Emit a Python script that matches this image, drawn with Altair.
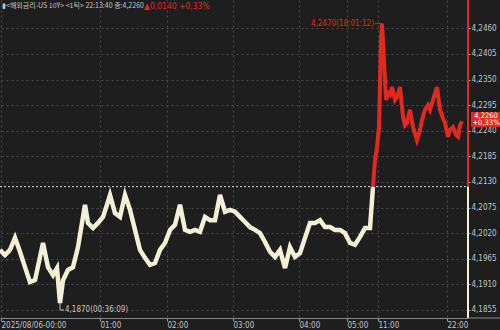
import altair as alt
import pandas as pd

# ---- data ----
white_tick = [0, 5, 10, 15, 20, 25, 30, 35, 40, 43, 48, 53, 57, 60, 63, 68, 73, 78, 82, 85,
              88, 93, 98, 103, 107, 110, 115, 120, 125, 130, 135, 140, 145, 150, 155, 160, 165,
              170, 175, 180, 185, 190, 195, 200, 205, 210, 215, 220, 225, 230, 235, 240, 245,
              250, 255, 260, 265, 270, 275, 280, 285, 290, 295, 300, 305, 310, 315, 320, 325,
              330, 335, 340, 345, 350, 355, 360, 365, 370, 373]
white_val = [4.1984, 4.1973, 4.1984, 4.2010, 4.1980, 4.1947, 4.1915, 4.1919, 4.1969, 4.1999,
             4.1947, 4.1930, 4.1945, 4.1870, 4.1919, 4.1941, 4.1947, 4.1990, 4.2042, 4.2081,
             4.2042, 4.2031, 4.2042, 4.2055, 4.2081, 4.2102, 4.2063, 4.2055, 4.2102, 4.2070,
             4.2027, 4.1984, 4.1967, 4.1952, 4.1956, 4.1984, 4.1999, 4.2027, 4.2038, 4.2081,
             4.2027, 4.2023, 4.2027, 4.2023, 4.2055, 4.2048, 4.2048, 4.2102, 4.2066, 4.2070,
             4.2066, 4.2055, 4.2044, 4.2033, 4.2027, 4.2020, 4.2001, 4.1980, 4.1969, 4.1984,
             4.1945, 4.1990, 4.1969, 4.1977, 4.2010, 4.2042, 4.2042, 4.2048, 4.2033, 4.2033,
             4.2027, 4.2027, 4.2020, 4.1999, 4.1995, 4.2012, 4.2031, 4.2031, 4.2120]

red_tick = [373, 375, 377, 379, 381, 382, 384, 386, 388, 390, 392, 395, 397, 400, 403, 405,
            407, 410, 413, 417, 420, 422, 425, 428, 430, 433, 437, 440, 443, 445, 448, 450,
            453, 456, 458, 460, 462]
red_val = [4.2120, 4.2177, 4.2205, 4.2248, 4.2435, 4.2470, 4.2392, 4.2306, 4.2321, 4.2317,
           4.2334, 4.2306, 4.2312, 4.2334, 4.2270, 4.2252, 4.2257, 4.2285, 4.2248, 4.2220,
           4.2242, 4.2263, 4.2285, 4.2295, 4.2285, 4.2306, 4.2334, 4.2285, 4.2267, 4.2257,
           4.2227, 4.2242, 4.2248, 4.2231, 4.2227, 4.2252, 4.2260]

x_tick_pos = [1, 100, 167, 233, 299, 347, 378, 447]
x_tick_labels = ["2025/08/06-00:00", "01:00", "02:00", "03:00", "04:00", "05:00", "11:00", "22:00"]
y_ticks = [4.1855, 4.1910, 4.1965, 4.2020, 4.2075, 4.2130, 4.2185, 4.2240, 4.2295,
           4.2350, 4.2405, 4.2460]
prev_close = 4.2120
last_price = 4.2260
low_point = (60, 4.1870, "4,1870(00:36:09)")
high_point = (382, 4.2470, "4,2470(18:01:12)")
header_main = "▮<해외금리-US 10Y> <1틱> 22:13:40 종:4,2260"
header_change = "▲0,0140 +0,33%"
tag_lines = ["4,2260", "+0,33%"]

# ---- styling ----
BG = "#1e1e1e"
CREAM = "#f3f0d6"
RED = "#e2291f"
GRID = "#4a4a4a"
LABEL = "#c4c4c4"
FONT = "Liberation Sans Narrow, DejaVu Sans Condensed, Liberation Sans, sans-serif"
W, H = 468, 318
Y_DOMAIN = [4.18378, 4.25208]
X_DOMAIN = [0, 468]

label_expr = ""
for p, l in zip(x_tick_pos, x_tick_labels):
    label_expr += f"datum.value == {p} ? '{l}' : "
label_expr += "''"

xs = alt.Scale(domain=X_DOMAIN, nice=False, zero=False)
ys = alt.Scale(domain=Y_DOMAIN, nice=False, zero=False)

white_df = pd.DataFrame({"tick": white_tick, "price": white_val})
red_df = pd.DataFrame({"tick": red_tick, "price": red_val})

x_axis = alt.Axis(values=x_tick_pos, labelExpr=label_expr, labelAlign="left", labelPadding=0,
                  labelColor=LABEL, labelFont=FONT, labelFontSize=8, tickSize=3,
                  tickColor="#9a9a9a", domainColor="#8a8a8a", grid=True, gridColor=GRID,
                  gridDash=[2, 3], title=None, labelOverlap=False, labelBound=False)
y_axis = alt.Axis(orient="right", values=y_ticks,
                  labelExpr="replace(format(datum.value, '.4f'), '.', ',')",
                  labelColor=LABEL, labelFont=FONT, labelFontSize=8, labelPadding=1,
                  tickSize=2, tickColor="#9a9a9a", domain=False, grid=True, gridColor=GRID,
                  gridDash=[2, 3], title=None, labelOverlap=False)

base_white = alt.Chart(white_df).mark_line(color=CREAM, strokeWidth=4.5, interpolate="linear",
                                           strokeJoin="miter", clip=True).encode(
    x=alt.X("tick:Q", scale=xs, axis=x_axis),
    y=alt.Y("price:Q", scale=ys, axis=y_axis),
)
red_line = alt.Chart(red_df).mark_line(color=RED, strokeWidth=4, interpolate="linear",
                                       strokeJoin="miter", clip=True).encode(
    x=alt.X("tick:Q", scale=xs, axis=x_axis),
    y=alt.Y("price:Q", scale=ys, axis=y_axis),
)

pc_df = pd.DataFrame({"p": [prev_close]})
prev_line = alt.Chart(pc_df).mark_rule(color="#d8d8d8", strokeDash=[2, 2], strokeWidth=1).encode(
    y=alt.Y("p:Q", scale=ys, axis=y_axis), x=alt.value(0), x2=alt.value(W))
axis_red = alt.Chart(pc_df).mark_rule(color=RED, strokeWidth=2).encode(
    y=alt.Y("p:Q", scale=ys, axis=y_axis), y2=alt.value(0), x=alt.value(W))
axis_cream = alt.Chart(pc_df).mark_rule(color=CREAM, strokeWidth=2).encode(
    y=alt.Y("p:Q", scale=ys, axis=y_axis), y2=alt.value(H), x=alt.value(W))
bottom_ext = alt.Chart(pc_df).mark_rule(color="#8a8a8a", strokeWidth=1).encode(
    x=alt.value(W), x2=alt.value(500), y=alt.value(H))

low_df = pd.DataFrame({"t": [low_point[0]], "p": [low_point[1]], "txt": [low_point[2]]})
low_txt = alt.Chart(low_df).mark_text(color=LABEL, font=FONT, fontSize=8, align="left",
                                      baseline="middle", dx=5, dy=7).encode(
    x=alt.X("t:Q", scale=xs, axis=x_axis), y=alt.Y("p:Q", scale=ys, axis=y_axis), text="txt:N")
low_v = alt.Chart(low_df).mark_rule(color=LABEL, strokeWidth=1).encode(
    x=alt.X("t:Q", scale=xs, axis=x_axis), y=alt.Y("p:Q", scale=ys, axis=y_axis),
    y2=alt.value(310))
low_h = alt.Chart(low_df).mark_rule(color=LABEL, strokeWidth=1).encode(
    x=alt.X("t:Q", scale=xs, axis=x_axis), x2=alt.value(64), y=alt.value(310))

high_df = pd.DataFrame({"t": [high_point[0]], "p": [high_point[1]], "txt": [high_point[2]]})
high_txt = alt.Chart(high_df).mark_text(color=RED, font=FONT, fontSize=8, align="right",
                                        baseline="middle", dx=-8).encode(
    x=alt.X("t:Q", scale=xs, axis=x_axis), y=alt.Y("p:Q", scale=ys, axis=y_axis), text="txt:N")
high_h = alt.Chart(high_df).mark_rule(color=RED, strokeWidth=1).encode(
    x=alt.X("t:Q", scale=xs, axis=x_axis), x2=alt.value(375),
    y=alt.Y("p:Q", scale=ys, axis=y_axis))

hdr_df = pd.DataFrame({"a": [header_main], "b": [header_change]})
hdr1 = alt.Chart(hdr_df).mark_text(color=LABEL, font="Noto Sans CJK KR", fontSize=7,
                                   align="left", baseline="middle").encode(
    x=alt.value(2), y=alt.value(6), text="a:N")
hdr2 = alt.Chart(hdr_df).mark_text(color=RED, font=FONT, fontSize=8.5, align="left",
                                   baseline="middle").encode(
    x=alt.value(144), y=alt.value(6), text="b:N")

tag_df = pd.DataFrame({"p": [last_price], "l1": [tag_lines[0]], "l2": [tag_lines[1]]})
tag_rect = alt.Chart(tag_df).mark_rect(color=RED).encode(
    x=alt.value(471), x2=alt.value(500), y=alt.value(112), y2=alt.value(127))
tag_t1 = alt.Chart(tag_df).mark_text(color="white", font=FONT, fontSize=7.5, align="center",
                                     baseline="middle").encode(
    x=alt.value(486), y=alt.value(115.5), text="l1:N")
tag_t2 = alt.Chart(tag_df).mark_text(color="white", font=FONT, fontSize=7.5, align="center",
                                     baseline="middle").encode(
    x=alt.value(486), y=alt.value(123), text="l2:N")

chart = alt.layer(
    base_white, prev_line, red_line, axis_red, axis_cream, bottom_ext,
    low_v, low_h, low_txt, high_h, high_txt, hdr1, hdr2, tag_rect, tag_t1, tag_t2
).properties(
    width=W, height=H,
    autosize=alt.AutoSizeParams(type="none"),
    padding={"left": 0, "top": 0, "right": 32, "bottom": 12},
    background=BG,
).configure_view(stroke=None).configure_axis(labelOverlap=False)

chart.save("out.html", embed_options={"renderer": "svg", "actions": False})
